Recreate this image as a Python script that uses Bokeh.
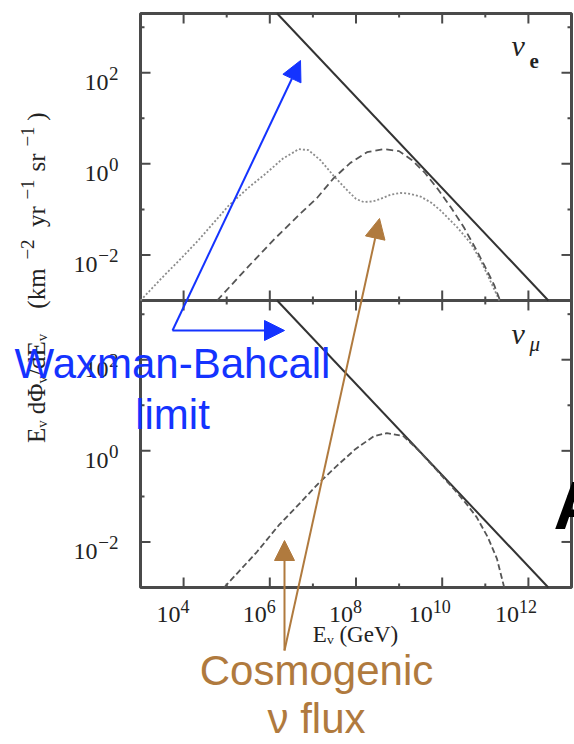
from bokeh.plotting import figure
from bokeh.models import Range1d, LogScale, Label, Arrow, NormalHead
from bokeh.core.properties import value
from bokeh.embed import file_html
from bokeh.resources import INLINE

# ---------------- data ----------------
energy_ticks = [1e4, 1e6, 1e8, 1e10, 1e12]
energy_minor = [1e5, 1e7, 1e9, 1e11]
energy_tick_exp = ["4", "6", "8", "10", "12"]
flux_ticks = [1e-2, 1e0, 1e2]
flux_minor = [1e-1, 1e1, 1e3]
flux_tick_exp = ["\u22122", "0", "2"]

# axis extent of each panel
energy_limits = [1e3, 1e13]
flux_limits = [1e-3, 2.0e3]

# Waxman-Bahcall limit (same in both panels)
wb_energy = [1.48e6, 2.9e12]
wb_flux = [2.0e3, 1.0e-3]

# nu_e panel, dotted curve
nue_dot_energy = [1.0e3, 3.2e3, 9.3e3, 2.2e4, 1.1e5, 3.2e5, 7.9e5, 2.0e6, 4.7e6,
                  7.9e6, 1.5e7, 3.0e7, 6.3e7, 1.0e8, 1.5e8, 2.5e8, 3.7e8, 6.3e8,
                  1.1e9, 1.8e9, 3.2e9, 5.6e9, 9.1e9, 2.2e10, 4.6e10, 7.8e10,
                  1.2e11, 1.9e11, 2.1e11]
nue_dot_flux = [1.0e-3, 3.2e-3, 8.9e-3, 2.1e-2, 0.12, 0.30, 0.60, 1.3, 2.1,
                2.0, 1.2, 0.55, 0.26, 0.17, 0.145, 0.15, 0.17, 0.21,
                0.23, 0.22, 0.19, 0.14, 0.095, 0.041, 0.018, 7.6e-3,
                3.2e-3, 1.26e-3, 1.0e-3]

# nu_e panel, dashed curve
nue_dash_energy = [6.0e4, 3.2e5, 1.26e6, 5.0e6, 1.26e7, 3.0e7, 7.4e7, 1.8e8, 4.4e8,
                   1.0e9, 2.0e9, 4.0e9, 7.9e9, 1.6e10, 3.2e10, 6.3e10, 1.1e11,
                   1.6e11, 2.2e11]
nue_dash_flux = [1.0e-3, 5.6e-3, 0.022, 0.079, 0.18, 0.48, 1.05, 1.8, 2.1,
                 1.9, 1.2, 0.63, 0.28, 0.11, 0.04, 0.0126, 4.5e-3,
                 2.2e-3, 1.0e-3]

# nu_mu panel, dashed curve
numu_energy = [8.7e4, 5.0e5, 1.6e6, 5.2e6, 1.4e7, 3.7e7, 9.8e7, 2.6e8, 5.2e8,
               1.26e9, 2.75e9, 7.4e9, 1.95e10, 3.5e10, 6.3e10, 1.15e11, 1.86e11,
               2.75e11]
numu_flux = [1.0e-3, 6.0e-3, 0.023, 0.074, 0.20, 0.48, 1.1, 2.1, 2.45,
             2.1, 1.05, 0.38, 0.138, 0.072, 0.035, 0.0126, 4.3e-3,
             1.0e-3]

# ---------------- layout ----------------
W, H = 574, 744
FL, FR, FT, FB = 140, 571, 13, 587      # outer edges of the two stacked panels (px)
X_DEC = (3, 13)                          # energy decades across the panels
PANEL_DEC = 6.3                          # flux decades per panel
Y0 = -3                                  # lowest flux decade of a panel
PX_X = (X_DEC[1] - X_DEC[0]) / (FR - FL)      # decades per pixel, x
PX_Y = 2 * PANEL_DEC / (FB - FT)              # decades per pixel, y

FRAME_COL = "#4a4a4a"
TEXT_COL = "#222222"
SERIF = "Liberation Serif"
SANS = "Liberation Sans"
BLUE = "#1433ff"
BROWN = "#b07a3e"


def at(X, Y):
    """page pixel -> data coordinates on the bottom-panel scale"""
    return (10 ** (X_DEC[0] + PX_X * (X - FL)),
            10 ** (Y0 + PX_Y * (FB - Y)))


def shift_x(n_px):
    return 10 ** (n_px * PX_X)


def shift_y(n_px):
    return 10 ** (n_px * PX_Y)


x_lo, y_lo = at(0, H)
x_hi, y_hi = at(W, 0)
p = figure(width=W, height=H, x_axis_type="log", y_axis_type="log",
           x_axis_location=None, y_axis_location=None,
           x_range=Range1d(x_lo, x_hi), y_range=Range1d(y_lo, y_hi),
           output_backend="svg", toolbar_location=None, min_border=0)
p.extra_y_ranges = {"top": Range1d(y_lo / 10 ** PANEL_DEC, y_hi / 10 ** PANEL_DEC)}
p.extra_y_scales = {"top": LogScale()}
p.grid.visible = False
p.outline_line_color = None
p.background_fill_color = "white"
p.border_fill_color = "white"

E0, E1 = energy_limits
F0, F1 = flux_limits
tick_kw = dict(line_color=FRAME_COL, line_width=2)

for rng in ("default", "top"):
    # panel frame
    p.quad(left=[E0], right=[E1], bottom=[F0], top=[F1], fill_color=None,
           line_color=FRAME_COL, line_width=3, y_range_name=rng)
    # inward ticks on all four sides
    for ticks, L in ((energy_ticks, 10), (energy_minor, 4)):
        n = len(ticks)
        p.segment(x0=ticks, x1=ticks, y0=[F0] * n, y1=[F0 * shift_y(L)] * n,
                  y_range_name=rng, **tick_kw)
        p.segment(x0=ticks, x1=ticks, y0=[F1 / shift_y(L)] * n, y1=[F1] * n,
                  y_range_name=rng, **tick_kw)
    for ticks, L in ((flux_ticks, 10), (flux_minor, 4)):
        n = len(ticks)
        p.segment(x0=[E0] * n, x1=[E0 * shift_x(L)] * n, y0=ticks, y1=ticks,
                  y_range_name=rng, **tick_kw)
        p.segment(x0=[E1 / shift_x(L)] * n, x1=[E1] * n, y0=ticks, y1=ticks,
                  y_range_name=rng, **tick_kw)
    # y tick labels: "10" with a raised exponent, right-aligned near the frame
    exp_right = E0 / shift_x(22)
    base_right = [exp_right / shift_x(10 + 11 * (len(e) - 1)) for e in flux_tick_exp]
    p.text(x=base_right, y=[t / shift_y(10) for t in flux_ticks],
           text=["10"] * len(flux_ticks), text_align="right",
           text_baseline="alphabetic", text_font=value(SERIF),
           text_font_size=value("24px"), text_color=TEXT_COL, y_range_name=rng)
    p.text(x=[exp_right] * len(flux_ticks), y=[t / shift_y(1) for t in flux_ticks],
           text=flux_tick_exp, text_align="right", text_baseline="alphabetic",
           text_font=value(SERIF), text_font_size=value("19px"),
           text_color=TEXT_COL, y_range_name=rng)

# x tick labels (bottom panel only)
split = [t * shift_x(3.5 - 6.5 * len(e)) for t, e in zip(energy_ticks, energy_tick_exp)]
p.text(x=split, y=[F0 / shift_y(27)] * len(energy_ticks),
       text=["10"] * len(energy_ticks), text_align="right",
       text_baseline="alphabetic", text_font=value(SERIF),
       text_font_size=value("24px"), text_color=TEXT_COL)
p.text(x=split, y=[F0 / shift_y(19)] * len(energy_ticks), text=energy_tick_exp,
       text_align="left", text_baseline="alphabetic", text_font=value(SERIF),
       text_font_size=value("18px"), text_color=TEXT_COL)

# ---------------- curves ----------------
p.line(wb_energy, wb_flux, y_range_name="top", line_color="#333333", line_width=2)
p.line(nue_dot_energy, nue_dot_flux, y_range_name="top", line_color="#8c8c8c",
       line_width=1.8, line_dash="2 2")
p.line(nue_dash_energy, nue_dash_flux, y_range_name="top", line_color="#555555",
       line_width=1.8, line_dash="7 4")
p.line(wb_energy, wb_flux, line_color="#333333", line_width=2)
p.line(numu_energy, numu_flux, line_color="#555555", line_width=1.8,
       line_dash="6 3")


def lab(X, Y, text, **kw):
    x, y = at(X, Y)
    p.add_layout(Label(x=x, y=y, text=text, **kw))


# x axis title
lab(355, 646, "E\u1d65 (GeV)", text_align="center", text_font=SERIF,
    text_font_size="23px", text_color=TEXT_COL)

# y axis title, rotated, built from pieces so the exponents stay large
ROT = 1.5708
for txt, yc, size, xm in (("(km", 288, "25px", 36), ("\u22122", 249, "19px", 27),
                          ("yr", 216, "25px", 36), ("\u22121", 189, "19px", 27),
                          ("sr", 162, "25px", 36), ("\u22121", 136, "19px", 27),
                          (")", 116, "25px", 36)):
    lab(xm, yc, txt, angle=ROT, text_align="center", text_baseline="middle",
        text_font=SERIF, text_font_size=size, text_color=TEXT_COL)
lab(36, 388, "E\u1d65 d\u03a6\u1d65/dE\u1d65", angle=ROT, text_align="center",
    text_baseline="middle", text_font=SERIF, text_font_size="25px",
    text_color=TEXT_COL)

# panel labels
lab(511, 61, "\u03bd", text_font=SERIF, text_font_style="italic",
    text_font_size="30px", text_color=TEXT_COL)
lab(529, 67, "e", text_font=SERIF, text_font_style="bold",
    text_font_size="21px", text_color=TEXT_COL)
lab(511, 349, "\u03bd", text_font=SERIF, text_font_style="italic",
    text_font_size="30px", text_color=TEXT_COL)
lab(529, 355, "\u03bc", text_font=SERIF, text_font_style="italic",
    text_font_size="21px", text_color=TEXT_COL)


# ---------------- annotations ----------------
def arrow(X0, Y0_, X1, Y1, color):
    x0, y0 = at(X0, Y0_)
    x1, y1 = at(X1, Y1)
    p.add_layout(Arrow(x_start=x0, y_start=y0, x_end=x1, y_end=y1,
                       line_color=color, line_width=2,
                       end=NormalHead(size=20, fill_color=color, line_color=color)))


arrow(172, 330, 300, 60, BLUE)
arrow(172, 330, 284, 330, BLUE)
arrow(284, 650, 379, 218, BROWN)
arrow(284, 650, 284, 540, BROWN)

lab(172, 386, "Waxman-Bahcall", text_align="center", text_font=SANS,
    text_font_size="42px", text_color=BLUE)
lab(172, 437, "limit", text_align="center", text_font=SANS,
    text_font_size="42px", text_color=BLUE)
lab(316, 693, "Cosmogenic", text_align="center", text_font=SANS,
    text_font_size="42px", text_color=BROWN)
lab(316, 741, "\u03bd flux", text_align="center", text_font=SANS,
    text_font_size="42px", text_color=BROWN)
lab(553, 542, "A", text_font=SANS, text_font_style="bold",
    text_font_size="68px", text_color="#000000")

open("out.html", "w").write(file_html(p, INLINE))
